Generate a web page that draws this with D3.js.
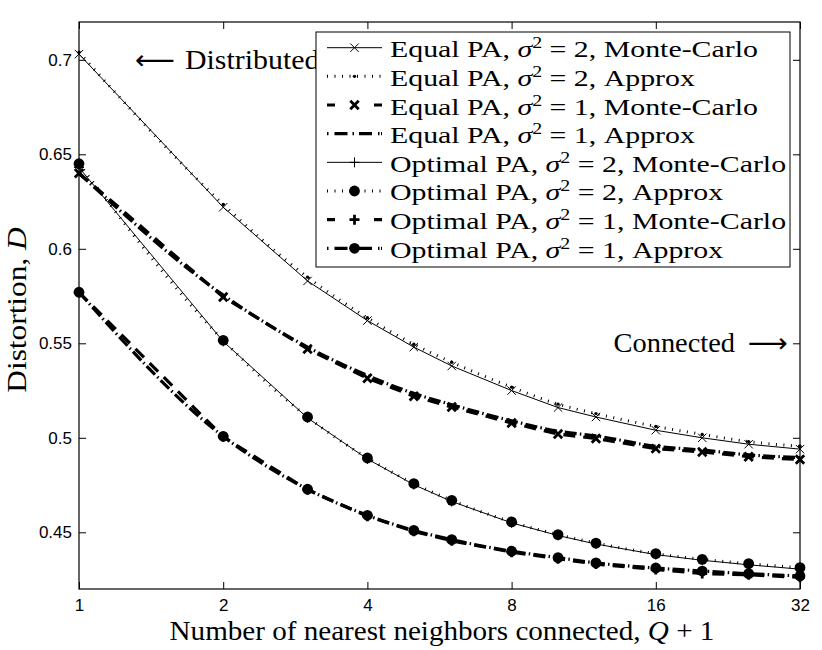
<!DOCTYPE html>
<html>
<head>
<meta charset="utf-8">
<script src="https://cdn.jsdelivr.net/npm/d3@7"></script>
<style>
  body { margin: 0; background: #fff; }
  svg { display: block; }
  .tick text { font-family: "Liberation Sans", Arial, sans-serif; font-size: 17px; fill: #000; }
  .tick line { stroke: #000; stroke-width: 1; }
</style>
</head>
<body>
<div id="chart"></div>
<script>
// nearest neighbours connected (Q+1), the points where markers sit
const qValues = [1, 2, 3, 4, 5, 6, 8, 10, 12, 16, 20, 25, 32];
const xTicks = [1, 2, 4, 8, 16, 32];
const yTicks = [0.45, 0.5, 0.55, 0.6, 0.65, 0.7];

// distortion D
const equalMC2     = [0.703, 0.622, 0.583, 0.562, 0.548, 0.538, 0.525, 0.516, 0.511, 0.504, 0.500, 0.4966, 0.494];
const equalApprox2 = [0.704, 0.6235, 0.585, 0.5635, 0.5495, 0.540, 0.5268, 0.5178, 0.5128, 0.506, 0.5018, 0.498, 0.4955];
const equalMC1     = [0.640, 0.5745, 0.547, 0.5315, 0.522, 0.5163, 0.5078, 0.502, 0.4996, 0.4943, 0.4925, 0.490, 0.4885];
const equalApprox1 = [0.640, 0.5755, 0.548, 0.533, 0.5235, 0.5175, 0.509, 0.5035, 0.501, 0.4955, 0.4935, 0.491, 0.4895];
const optMC2       = [0.643, 0.551, 0.5105, 0.4888, 0.4752, 0.4663, 0.455, 0.4483, 0.4438, 0.4382, 0.4352, 0.4328, 0.4305];
const optApprox2   = [0.645, 0.5516, 0.511, 0.4893, 0.4758, 0.4669, 0.4555, 0.4488, 0.4443, 0.4387, 0.4357, 0.4334, 0.4313];
const optMC1       = [0.577, 0.5005, 0.4725, 0.4585, 0.4505, 0.4455, 0.4395, 0.436, 0.4332, 0.4303, 0.4282, 0.4275, 0.4262];
const optApprox1   = [0.577, 0.5008, 0.4728, 0.459, 0.451, 0.4461, 0.440, 0.4366, 0.4338, 0.4311, 0.4295, 0.4281, 0.4269];

const legendPA   = ["Equal", "Equal", "Equal", "Equal", "Optimal", "Optimal", "Optimal", "Optimal"];
const legendSig  = ["2", "2", "1", "1", "2", "2", "1", "1"];
const legendKind = ["Monte-Carlo", "Approx", "Monte-Carlo", "Approx", "Monte-Carlo", "Approx", "Monte-Carlo", "Approx"];

const W = 822, H = 650;
const margin = {top: 22, right: 22, bottom: 61, left: 79};

const svg = d3.select("#chart").append("svg")
    .attr("width", W)
    .attr("height", H);

const x = d3.scaleLog().base(2)
    .domain([1, 32])
    .range([margin.left, W - margin.right]);
const y = d3.scaleLinear()
    .domain([0.42, 0.72])
    .range([H - margin.bottom, margin.top]);

// line styles, one per series in legend order
// dashed and dash-dot share one period so that overlapping pairs keep their gaps
const thin = 1, thick = 3.2;
const dotted = "1,6.5", dashed = "12,8", dashDot = "12,3.2,1.5,3.3";
const legDotted = "1,6.5", legDashed = "8,39,8", legDashDot = "1.5,6,13,5,1.5,5,13,6,1.5";
const series = [
  {vals: equalMC2,     width: thin,  dash: null,    leg: null,       curve: d3.curveLinear,    marker: "x",      mw: 1},
  {vals: equalApprox2, width: 3,     dash: dotted,  leg: legDotted,  curve: d3.curveMonotoneX, marker: "dot",    mw: 1},
  {vals: equalMC1,     width: thick, dash: dashed,  leg: legDashed,  curve: d3.curveLinear,    marker: "x",      mw: 2.8},
  {vals: equalApprox1, width: thick, dash: dashDot, leg: legDashDot, curve: d3.curveMonotoneX, marker: null,     mw: 1},
  {vals: optMC2,       width: thin,  dash: null,    leg: null,       curve: d3.curveLinear,    marker: "plus",   mw: 1},
  {vals: optApprox2,   width: 3,     dash: dotted,  leg: legDotted,  curve: d3.curveMonotoneX, marker: "circle", mw: 1},
  {vals: optMC1,       width: thick, dash: dashed,  leg: legDashed,  curve: d3.curveLinear,    marker: "plus",   mw: 2.8},
  {vals: optApprox1,   width: thick, dash: dashDot, leg: legDashDot, curve: d3.curveMonotoneX, marker: "circle", mw: 1}
];

// axes: ticks point inward on all four sides
const tick = 7;
svg.append("g")
    .attr("transform", "translate(0," + (H - margin.bottom) + ")")
    .call(d3.axisBottom(x).tickValues(xTicks).tickFormat(d3.format("d"))
        .tickSizeInner(-tick).tickSizeOuter(0).tickPadding(10))
    .call(g => g.select(".domain").remove());
svg.append("g")
    .attr("transform", "translate(0," + margin.top + ")")
    .call(d3.axisTop(x).tickValues(xTicks).tickFormat("")
        .tickSizeInner(-tick).tickSizeOuter(0))
    .call(g => g.select(".domain").remove());
svg.append("g")
    .attr("transform", "translate(" + margin.left + ",0)")
    .call(d3.axisLeft(y).tickValues(yTicks).tickFormat(d => String(d))
        .tickSizeInner(-tick).tickSizeOuter(0).tickPadding(7))
    .call(g => g.select(".domain").remove());
svg.append("g")
    .attr("transform", "translate(" + (W - margin.right) + ",0)")
    .call(d3.axisRight(y).tickValues(yTicks).tickFormat("")
        .tickSizeInner(-tick).tickSizeOuter(0))
    .call(g => g.select(".domain").remove());

svg.append("rect")
    .attr("x", margin.left).attr("y", margin.top)
    .attr("width", W - margin.left - margin.right)
    .attr("height", H - margin.top - margin.bottom)
    .attr("fill", "none").attr("stroke", "#000").attr("stroke-width", 1.2);

function drawMarker(g, kind, px, py, mw) {
  if (kind === "x") {
    g.append("path").attr("d", `M${px-4.2},${py-4.2}L${px+4.2},${py+4.2}M${px-4.2},${py+4.2}L${px+4.2},${py-4.2}`)
      .attr("stroke", "#000").attr("stroke-width", mw).attr("fill", "none");
  } else if (kind === "plus") {
    g.append("path").attr("d", `M${px-5},${py}H${px+5}M${px},${py-5}V${py+5}`)
      .attr("stroke", "#000").attr("stroke-width", mw).attr("fill", "none");
  } else if (kind === "circle") {
    g.append("circle").attr("cx", px).attr("cy", py).attr("r", 5.4).attr("fill", "#000");
  } else if (kind === "dot") {
    g.append("circle").attr("cx", px).attr("cy", py).attr("r", 1.7).attr("fill", "#000");
  }
}

const plot = svg.append("g");
series.forEach(s => {
  const pts = qValues.map((q, i) => [x(q), y(s.vals[i])]);
  plot.append("path")
      .attr("d", d3.line().curve(s.curve)(pts))
      .attr("fill", "none")
      .attr("stroke", "#000")
      .attr("stroke-width", s.width)
      .attr("stroke-dasharray", s.dash);
  if (s.marker) pts.forEach(p => drawMarker(plot, s.marker, p[0], p[1], s.mw));
});

// serif text stretched horizontally to the width the Computer Modern text has
const serif = "'Liberation Serif', 'Times New Roman', serif";
function placeText(px, py, size, anchor, fill, targetW, rotate, fixedScale) {
  const g = svg.append("g");
  const t = g.append("text")
      .attr("font-family", serif)
      .attr("font-size", size)
      .attr("text-anchor", anchor)
      .attr("fill", "#000");
  fill(t);
  const w = t.node().getBBox().width;
  const s = fixedScale || (targetW ? targetW / w : 1);
  g.attr("transform", `translate(${px},${py})` + (rotate ? ` rotate(${rotate})` : "") + ` scale(${s},1)`);
  return s;
}

// annotations
placeText(175, 69, 27, "end", t => t.attr("font-family", "'DejaVu Sans', sans-serif").text("\u27F5"), 40);
placeText(185, 69, 27, "start", t => t.text("Distributed"), 135);
placeText(735, 352, 27, "end", t => t.text("Connected"), 122);
placeText(788, 352, 27, "end", t => t.attr("font-family", "'DejaVu Sans', sans-serif").text("\u27F6"), 40);

// axis labels
placeText(442, 640, 27, "middle", t => {
  t.append("tspan").text("Number of nearest neighbors connected, ");
  t.append("tspan").attr("font-style", "italic").text("Q");
  t.append("tspan").text(" + 1");
}, 545);
placeText(26, 310, 27, "middle", t => {
  t.append("tspan").text("Distortion, ");
  t.append("tspan").attr("font-style", "italic").text("D");
}, 166, -90);

// legend
const lg = {x0: 316, y0: 32, x1: 790, y1: 267};
svg.append("rect")
    .attr("x", lg.x0).attr("y", lg.y0)
    .attr("width", lg.x1 - lg.x0).attr("height", lg.y1 - lg.y0)
    .attr("fill", "#fff").attr("stroke", "#000").attr("stroke-width", 1);

const rowY = d3.scaleLinear().domain([0, 7]).range([47.7, 248.3]);
let legendScale = null;
series.forEach((s, i) => {
  const cy = rowY(i);
  svg.append("path")
      .attr("d", `M327,${cy}H382`)
      .attr("fill", "none").attr("stroke", "#000")
      .attr("stroke-width", s.width)
      .attr("stroke-dasharray", s.leg);
  if (s.marker) drawMarker(svg, s.marker, 354.5, cy, s.mw);
  const build = t => {
    t.append("tspan").text(legendPA[i] + " PA, ");
    t.append("tspan").attr("font-style", "italic").text("\u03C3");
    t.append("tspan").attr("font-size", 16).attr("dy", -9).text("2");
    t.append("tspan").attr("dy", 9).text(" = " + legendSig[i] + ", " + legendKind[i]);
  };
  // first row sets the stretch, the rest reuse it
  legendScale = placeText(390, cy + 9.5, 24, "start", build, 368, 0, legendScale);
});
</script>
</body>
</html>
